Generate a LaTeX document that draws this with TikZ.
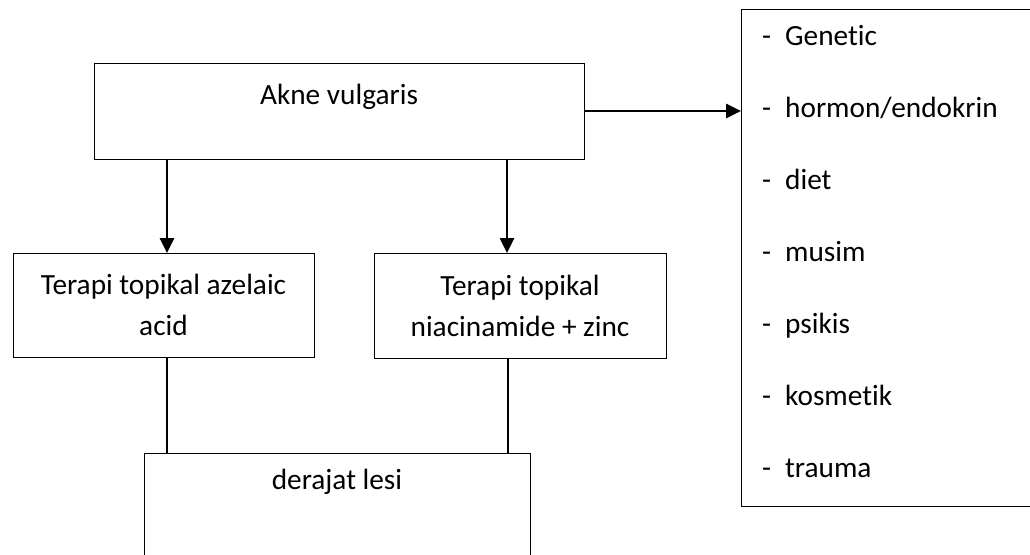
\documentclass[tikz,border=0pt]{standalone}
\usepackage{fontspec}
\setmainfont{Carlito}[Ligatures=NoCommon]
\usetikzlibrary{arrows.meta}

\begin{document}
\begin{tikzpicture}[x=1pt,y=-1pt]
\tikzset{edge/.style = {-{Triangle[length=15pt,width=14pt]},line width=2.6pt}}
\tikzset{link/.style = {line width=2.6pt}}
\tikzset{box/.style = {draw,line width=1pt,inner sep=0pt,outer sep=0pt}}
\tikzset{txt/.style = {font=\fontsize{29.3}{41}\selectfont,align=center}}
\path[use as bounding box,clip] (0,0) rectangle (1030,554);

\node[box,minimum width=490pt,minimum height=96pt] (main) at (339,111) {};
\node[txt,anchor=base] (akne) at ([yshift=-41pt]main.north) {Akne vulgaris};

\node[box,txt,minimum width=301pt,minimum height=104pt] (azel) at (163.5,305) {Terapi topikal azelaic\\acid};
\node[box,txt,minimum width=292pt,minimum height=105pt] (niac) at (520,305.5) {Terapi topikal\\niacinamide + zinc};

\node[box,minimum width=386pt,minimum height=150pt] (lesi) at (337,528) {};
\node[txt,anchor=base] (lesit) at ([yshift=-36pt]lesi.north) {derajat lesi};

\node[box,minimum width=300pt,minimum height=497pt] (fakt) at (891,257.5) {};
\foreach \t [count=\i from 0] in {Genetic, hormon/endokrin, diet, musim, psikis, kosmetik, trauma}
  \node[txt,anchor=base west,inner sep=0pt] (f\i) at (762,{45+72*\i}) {\makebox[23pt][l]{-}\t};

\draw[edge] ([xshift=3.5pt]azel.north |- main.south) -- ([xshift=3.5pt]azel.north);
\draw[edge] ([xshift=-13pt]niac.north |- main.south) -- ([xshift=-13pt]niac.north);
\draw[edge] (main.east) -- (main.east -| fakt.west);

\draw[link] ([xshift=3.5pt]azel.south) -- ([xshift=3.5pt]azel.south |- lesi.north);
\draw[link] ([xshift=-12pt]niac.south) -- ([xshift=-12pt]niac.south |- lesi.north);

\end{tikzpicture}
\end{document}
